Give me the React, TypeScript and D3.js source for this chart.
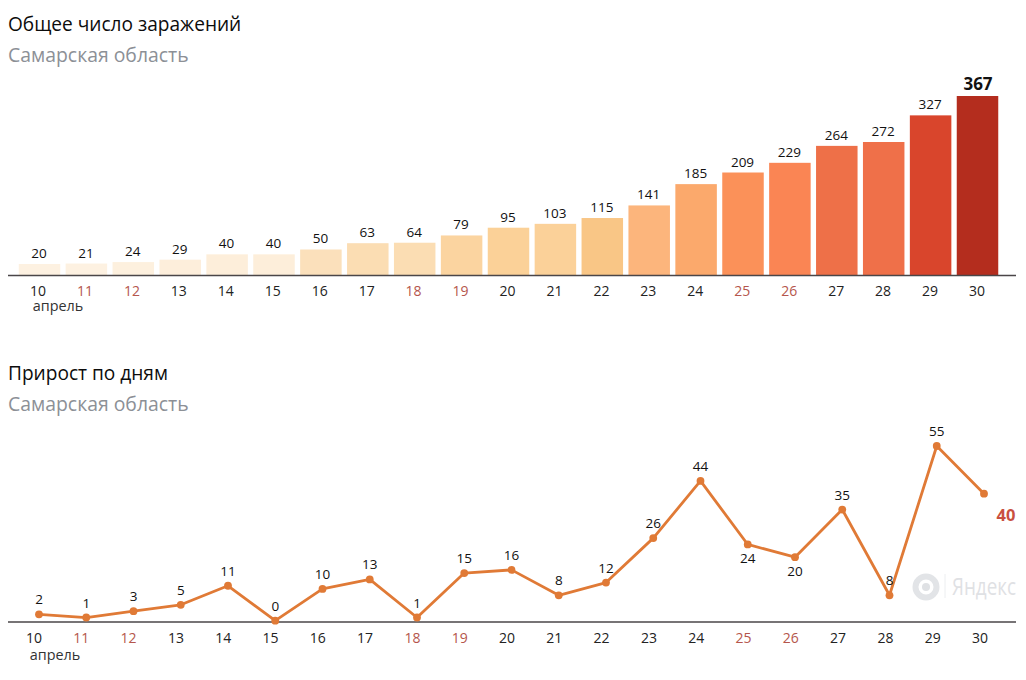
import React from "react";
import * as d3 from "d3";

const days = ["10","11","12","13","14","15","16","17","18","19","20","21","22","23","24","25","26","27","28","29","30"];
const weekendDays = ["11","12","18","19","25","26"];
const totals = [20,21,24,29,40,40,50,63,64,79,95,103,115,141,185,209,229,264,272,327,367];
const increments = [2,1,3,5,11,0,10,13,1,15,16,8,12,26,44,24,20,35,8,55,40];
const belowLabelDays = ["25","26"];
const barPalette = ["#fdf1e1","#fdf1e1","#fdf0de","#fdeedb","#fdeeda","#fdeeda","#fbe0bb","#fbddb3","#fbddb3","#fbd4a0","#fbd198","#fbd199","#f9c686","#fcb57c","#fba96c","#fb9159","#fa8554","#ee7048","#ef7049","#d9452c","#b42d1e"];

const FONT = "'Open Sans', sans-serif";
const RED = "#b5564c";
const AXIS = "#4a4648";
const LINE = "#e07a36";

export default function App() {
  const xBar = d3.scalePoint<string>().domain(days).range([39.5, 977.5]);
  const xBarTick = d3.scalePoint<string>().domain(days).range([38, 977]);
  const yBar = d3.scaleLinear().domain([-3.7, 367]).range([275.5, 96]);
  const barW = 41.5;

  const xLine = d3.scalePoint<string>().domain(days).range([39, 984]);
  const xLineTick = d3.scalePoint<string>().domain(days).range([34, 980]);
  const yLine = d3.scaleLinear().domain([0, 55]).range([620.7, 446]);
  const linePath = d3.line<number>()
    .x((_, i) => xLine(days[i])!)
    .y((d) => yLine(d))(increments)!;

  return (
    <svg width={1026} height={680} style={{ position: "absolute", left: 0, top: 0, background: "#fff" }} fontFamily={FONT}>
      <text x={8} y={31} fontSize={19.1} fill="#0c0c0c">Общее число заражений</text>
      <text x={8} y={62} fontSize={19.4} fill="#8c9096">Самарская область</text>

      {totals.map((v, i) => (
        <rect key={i} x={xBar(days[i])! - barW / 2} y={yBar(v)} width={barW} height={275.5 - yBar(v)} fill={barPalette[i]} />
      ))}
      {totals.map((v, i) => {
        const last = i === totals.length - 1;
        return (
          <text key={i} x={xBar(days[i])! + (last ? 0.5 : -0.5)} y={yBar(v) - 6} textAnchor="middle"
            fontSize={last ? 17 : 13.5} fontWeight={last ? 700 : 400} fill="#111">{v}</text>
        );
      })}
      <line x1={8} x2={1016} y1={275.5} y2={275.5} stroke={AXIS} strokeWidth={1.3} />
      {days.map((d) => (
        <text key={d} x={xBarTick(d)} y={296} textAnchor="middle" fontSize={14}
          fill={weekendDays.includes(d) ? RED : "#222"}>{d}</text>
      ))}
      <text x={58} y={310.5} textAnchor="middle" fontSize={14.4} fill="#333">апрель</text>

      <text x={8} y={380} fontSize={19.1} fill="#0c0c0c">Прирост по дням</text>
      <text x={8} y={411} fontSize={19.4} fill="#8c9096">Самарская область</text>

      <g transform="translate(926,587)">
        <circle r={10.5} fill="none" stroke="#e2e4e7" strokeWidth={6} />
        <circle r={4} fill="#dfe1e4" />
      </g>
      <line x1={945} x2={945} y1={574} y2={598} stroke="#eceef0" strokeWidth={1} />
      <text transform="translate(952,595) scale(0.82,1)" fontSize={23} fill="#dfe1e4">Яндекс</text>

      <line x1={8} x2={1016} y1={622} y2={622} stroke={AXIS} strokeWidth={1.3} />
      <path d={linePath} fill="none" stroke={LINE} strokeWidth={2.8} strokeLinejoin="round" />
      {increments.map((v, i) => (
        <circle key={i} cx={xLine(days[i])} cy={yLine(v)} r={3.9} fill={LINE} />
      ))}
      {increments.map((v, i) => {
        const d = days[i];
        if (i === increments.length - 1) {
          return <text key={i} x={1006} y={521} textAnchor="middle" fontSize={16.5} fontWeight={700} fill="#c9503f">{v}</text>;
        }
        const below = belowLabelDays.includes(d);
        return (
          <text key={i} x={xLine(d)} y={yLine(v) + (below ? 19 : -10)} textAnchor="middle" fontSize={13.5} fill="#111">{v}</text>
        );
      })}
      {days.map((d) => (
        <text key={d} x={xLineTick(d)} y={643} textAnchor="middle" fontSize={14}
          fill={weekendDays.includes(d) ? RED : "#222"}>{d}</text>
      ))}
      <text x={55} y={659.5} textAnchor="middle" fontSize={14.4} fill="#333">апрель</text>
    </svg>
  );
}
